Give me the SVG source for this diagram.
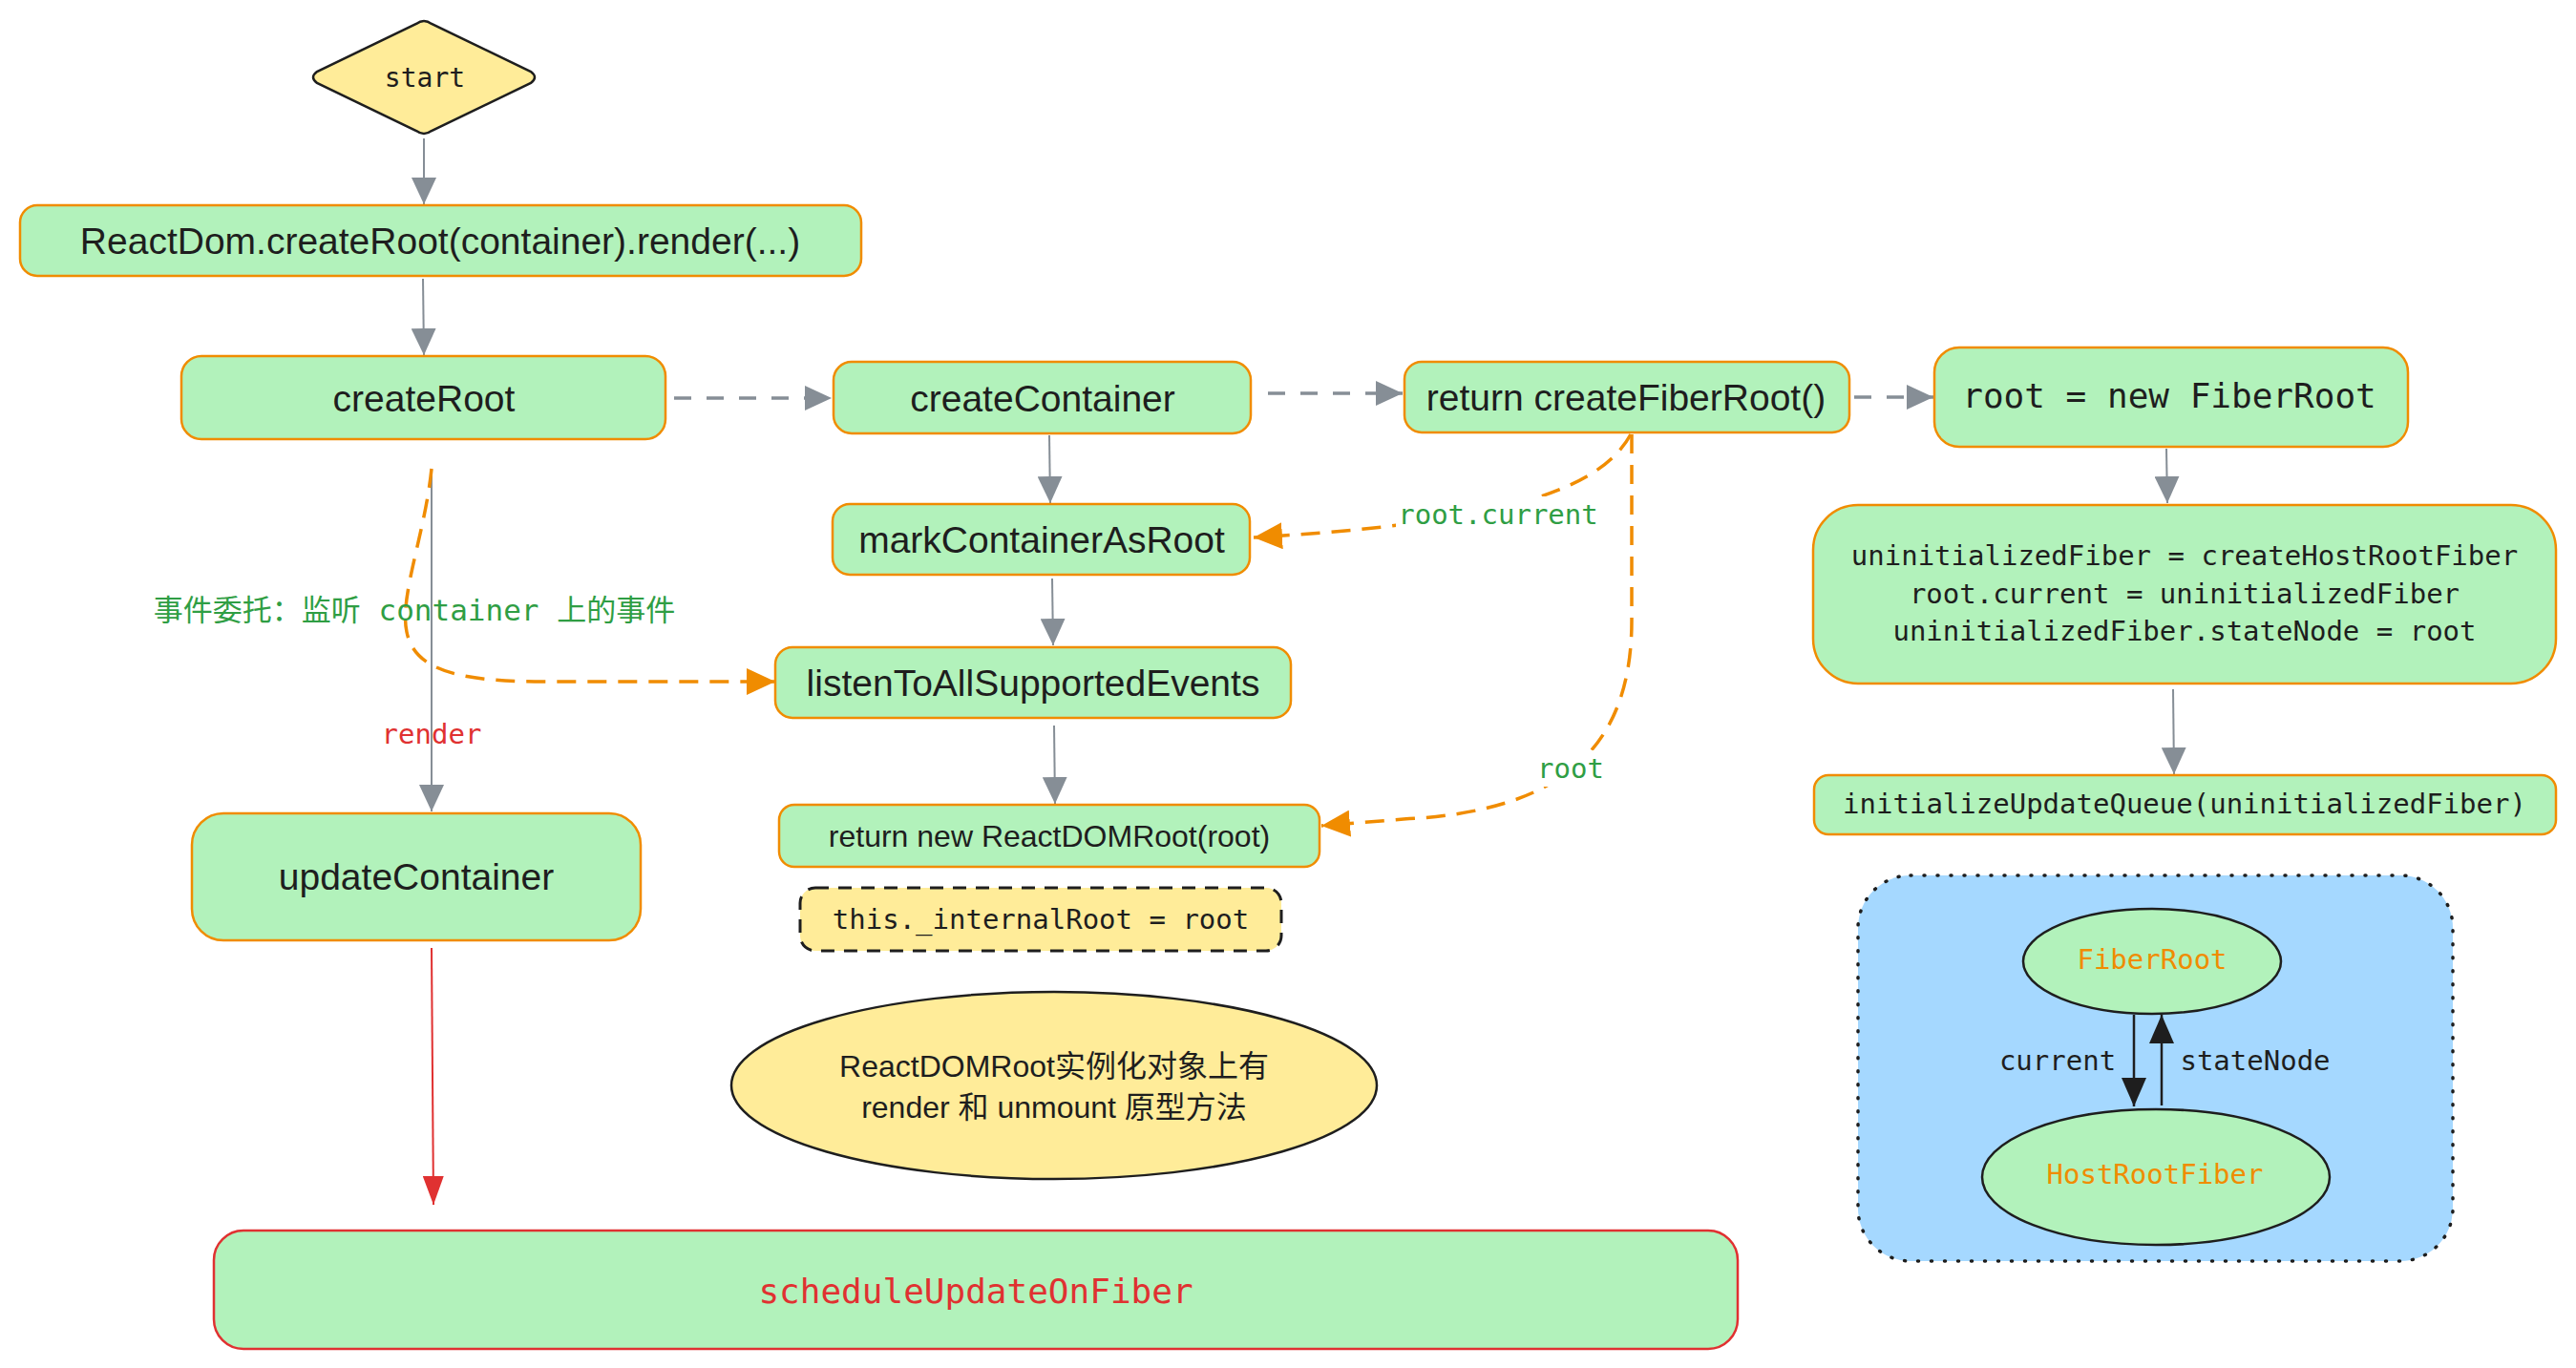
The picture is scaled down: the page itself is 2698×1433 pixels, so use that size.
<svg xmlns="http://www.w3.org/2000/svg" width="2698" height="1433" viewBox="0 0 2698 1433">
<style>
.box{fill:#b2f2bb;stroke:#f08c00;stroke-width:2.5}
.sans{font-family:"Liberation Sans",Arial,sans-serif;font-size:39px;fill:#1e1e1e;text-anchor:middle;dominant-baseline:central}
.mono{font-family:"DejaVu Sans Mono","Liberation Mono",monospace;font-size:29px;fill:#1e1e1e;text-anchor:middle;dominant-baseline:central}
.cjk{font-family:"Liberation Sans","Noto Sans CJK SC",sans-serif;font-size:32px;fill:#1e1e1e;text-anchor:middle;dominant-baseline:central}
.gray{fill:none;stroke:#868e96;stroke-width:2}
.gdash{fill:none;stroke:#868e96;stroke-width:3.5;stroke-dasharray:18 16}
.odash{fill:none;stroke:#f08c00;stroke-width:3.5;stroke-dasharray:20 12}
.blk{fill:none;stroke:#1e1e1e;stroke-width:2.5}
.lbl{font-family:"DejaVu Sans Mono","Noto Sans CJK SC",monospace;font-size:29px;text-anchor:middle;dominant-baseline:central}
</style>
<defs>
<marker id="ag" viewBox="0 0 28 26" markerWidth="28" markerHeight="26" refX="28" refY="13" orient="auto" markerUnits="userSpaceOnUse"><path d="M0,0 L28,13 L0,26 Z" fill="#868e96"/></marker>
<marker id="ao" viewBox="0 0 30 28" markerWidth="30" markerHeight="28" refX="30" refY="14" orient="auto" markerUnits="userSpaceOnUse"><path d="M0,0 L30,14 L0,28 Z" fill="#f08c00"/></marker>
<marker id="ar" viewBox="0 0 30 22" markerWidth="30" markerHeight="22" refX="30" refY="11" orient="auto" markerUnits="userSpaceOnUse"><path d="M0,0 L30,11 L0,22 Z" fill="#e03131"/></marker>
<marker id="ab" viewBox="0 0 30 26" markerWidth="30" markerHeight="26" refX="30" refY="13" orient="auto" markerUnits="userSpaceOnUse"><path d="M0,0 L30,13 L0,26 Z" fill="#1e1e1e"/></marker>
</defs>
<rect width="2698" height="1433" fill="#ffffff"/>

<g id="connectors">
<path class="gray" d="M444,145 L444,214" marker-end="url(#ag)"/>
<path class="gray" d="M443,292 L444,372" marker-end="url(#ag)"/>
<path class="gdash" d="M706,417 L871,417" marker-end="url(#ag)"/>
<path class="gdash" d="M1328,412 L1469,412" marker-end="url(#ag)"/>
<path class="gdash" d="M1942,416 L2025,416" marker-end="url(#ag)"/>
<path class="gray" d="M1099,456 L1100,527" marker-end="url(#ag)"/>
<path class="gray" d="M1102,606 L1103,676" marker-end="url(#ag)"/>
<path class="gray" d="M1104,760 L1105,842" marker-end="url(#ag)"/>
<path class="gray" d="M2269,470 L2270,527" marker-end="url(#ag)"/>
<path class="gray" d="M2276,722 L2277,811" marker-end="url(#ag)"/>
<path class="gray" d="M452,491 L452,850" marker-end="url(#ag)"/>
<text class="lbl" x="452" y="769" fill="#e03131">render</text>
<path class="odash" d="M452,491 C445,560 418,625 426,662 C434,702 480,713 560,714 L812,714" marker-end="url(#ao)"/>
<text class="lbl" x="434" y="639" fill="#2f9e44" style="font-size:31px">事件委托：监听 container 上的事件</text>
<path class="odash" d="M1708,455 C1675,515 1570,548 1313,563" marker-end="url(#ao)"/>
<rect x="1462" y="520" width="214" height="38" fill="#ffffff"/>
<text class="lbl" x="1569" y="539" fill="#2f9e44">root.current</text>
<path class="odash" d="M1709,455 L1709,650 C1709,780 1640,850 1470,858 L1384,865" marker-end="url(#ao)"/>
<rect x="1606" y="786" width="78" height="38" fill="#ffffff"/>
<text class="lbl" x="1645" y="805" fill="#2f9e44">root</text>
<path d="M452,993 L454,1262" fill="none" stroke="#e03131" stroke-width="2" marker-end="url(#ar)"/>
</g>

<g id="node-start">
<path d="M436,25 Q444,19 452,25 L556,75 Q564,81 556,87 L452,137 Q444,143 436,137 L332,87 Q324,81 332,75 Z" fill="#ffec99" stroke="#1e1e1e" stroke-width="2.5"/>
<text class="mono" x="445" y="81" style="font-size:28px">start</text>
</g>

<g id="node-reactdom">
<rect class="box" x="21" y="215" width="881" height="74" rx="18"/>
<text class="sans" x="461" y="252">ReactDom.createRoot(container).render(...)</text>
</g>

<g id="node-createRoot">
<rect class="box" x="190" y="373" width="507" height="87" rx="21"/>
<text class="sans" x="444" y="417">createRoot</text>
</g>

<g id="node-createContainer">
<rect class="box" x="873" y="379" width="437" height="75" rx="19"/>
<text class="sans" x="1092" y="417">createContainer</text>
</g>

<g id="node-createFiberRoot">
<rect class="box" x="1471" y="379" width="466" height="74" rx="18"/>
<text class="sans" x="1703" y="416">return createFiberRoot()</text>
</g>

<g id="node-newFiberRoot">
<rect class="box" x="2026" y="364" width="496" height="104" rx="26"/>
<text class="mono" x="2272" y="414" style="font-size:36px">root = new FiberRoot</text>
</g>

<g id="node-markContainerAsRoot">
<rect class="box" x="872" y="528" width="437" height="74" rx="18"/>
<text class="sans" x="1091" y="565">markContainerAsRoot</text>
</g>

<g id="node-listen">
<rect class="box" x="812" y="678" width="540" height="74" rx="18"/>
<text class="sans" x="1082" y="715">listenToAllSupportedEvents</text>
</g>

<g id="node-returnNew">
<rect class="box" x="816" y="843" width="566" height="65" rx="16"/>
<text class="sans" x="1099" y="876" style="font-size:32px">return new ReactDOMRoot(root)</text>
</g>

<g id="node-internalRoot">
<rect x="838" y="930" width="504" height="66" rx="16" fill="#ffec99" stroke="#1e1e1e" stroke-width="3" stroke-dasharray="14 10"/>
<text class="mono" x="1090" y="963">this._internalRoot = root</text>
</g>

<g id="node-note">
<ellipse cx="1104" cy="1137" rx="338" ry="98" fill="#ffec99" stroke="#1e1e1e" stroke-width="2.5"/>
<text class="cjk" x="1104" y="1117">ReactDOMRoot实例化对象上有</text>
<text class="cjk" x="1104" y="1160">render 和 unmount 原型方法</text>
</g>

<g id="node-updateContainer">
<rect class="box" x="201" y="852" width="470" height="133" rx="33"/>
<text class="sans" x="436" y="918">updateContainer</text>
</g>

<g id="node-schedule">
<rect x="224" y="1289" width="1596" height="124" rx="31" fill="#b2f2bb" stroke="#e03131" stroke-width="2.5"/>
<text class="mono" x="1022" y="1352" style="font-size:36px;fill:#e03131">scheduleUpdateOnFiber</text>
</g>

<g id="node-uninit">
<rect class="box" x="1899" y="529" width="778" height="187" rx="47"/>
<text class="mono" x="2288" y="582">uninitializedFiber = createHostRootFiber</text>
<text class="mono" x="2288" y="622">root.current = uninitializedFiber</text>
<text class="mono" x="2288" y="661">uninitializedFiber.stateNode = root</text>
</g>

<g id="node-initQueue">
<rect class="box" x="1900" y="812" width="777" height="62" rx="15"/>
<text class="mono" x="2288" y="842">initializeUpdateQueue(uninitializedFiber)</text>
</g>

<g id="node-fiberFrame">
<rect x="1946" y="917" width="623" height="404" rx="55" fill="#a5d8ff" stroke="#1e1e1e" stroke-width="3.5" stroke-dasharray="1 13" stroke-linecap="round"/>
<g id="node-FiberRoot">
<ellipse cx="2254" cy="1007" rx="135" ry="55" fill="#b2f2bb" stroke="#1e1e1e" stroke-width="2.5"/>
<text class="mono" x="2254" y="1005" style="fill:#f08c00">FiberRoot</text>
</g>
<g id="node-HostRootFiber">
<ellipse cx="2258" cy="1233" rx="182" ry="71" fill="#b2f2bb" stroke="#1e1e1e" stroke-width="2.5"/>
<text class="mono" x="2257" y="1230" style="fill:#f08c00">HostRootFiber</text>
</g>
<g id="fiber-connectors">
<path class="blk" d="M2235,1063 L2235,1159" marker-end="url(#ab)"/>
<path class="blk" d="M2264,1158 L2264,1063" marker-end="url(#ab)"/>
<text class="mono" x="2155" y="1111">current</text>
<text class="mono" x="2362" y="1111">stateNode</text>
</g>
</g>
</svg>
